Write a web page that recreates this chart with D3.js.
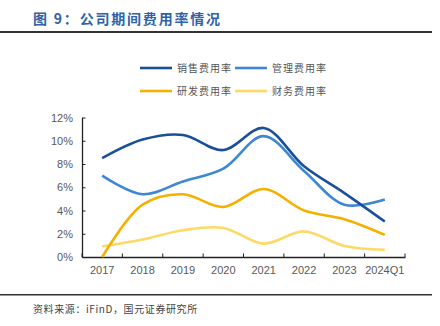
<!DOCTYPE html>
<html>
<head>
<meta charset="utf-8">
<script src="https://cdn.jsdelivr.net/npm/d3@7"></script>
<style>
  body { margin: 0; background: #fff; }
  svg { display: block; font-family: "Noto Sans CJK SC", "Liberation Sans", sans-serif; }
</style>
</head>
<body>
<div id="wrapper"></div>
<script>
// data (percent)
var years = ["2017", "2018", "2019", "2020", "2021", "2022", "2023", "2024Q1"];
var sales = [8.5, 10.1, 10.5, 9.2, 11.1, 7.8, 5.5, 3.05];
var admin = [7.0, 5.4, 6.5, 7.6, 10.4, 7.4, 4.5, 4.95];
var rnd = [0.0, 4.5, 5.4, 4.3, 5.85, 4.0, 3.25, 1.9];
var finance = [0.9, 1.5, 2.3, 2.5, 1.15, 2.2, 0.95, 0.63];
var yTicks = [0, 2, 4, 6, 8, 10, 12];

var series = [
  {name: "销售费用率", values: sales, color: "#1a4f9c"},
  {name: "管理费用率", values: admin, color: "#3e87d2"},
  {name: "研发费用率", values: rnd, color: "#f5b000"},
  {name: "财务费用率", values: finance, color: "#ffd966"}
];

var width = 440, height = 326;
var margin = {top: 117.5, right: 35, bottom: 69, left: 82};

var svg = d3.select("#wrapper").append("svg")
  .attr("width", width)
  .attr("height", height);

// title + rules
svg.append("text")
  .attr("x", 33).attr("y", 24)
  .attr("fill", "#2f62a8")
  .attr("font-size", 14).attr("font-weight", "bold")
  .attr("letter-spacing", 1.8)
  .text("图 9：公司期间费用率情况");
svg.append("rect").attr("x", 0).attr("y", 31).attr("width", 432).attr("height", 2).attr("fill", "#333");
svg.append("rect").attr("x", 0).attr("y", 294).attr("width", 432).attr("height", 1.5).attr("fill", "#333");
svg.append("text")
  .attr("x", 33).attr("y", 313)
  .attr("fill", "#444").attr("font-size", 10)
  .attr("letter-spacing", 0.6)
  .text("资料来源：iFinD，国元证券研究所");

var x = d3.scaleBand().domain(years)
  .range([margin.left, width - margin.right]);
var y = d3.scaleLinear().domain([0, 12])
  .range([height - margin.bottom, margin.top]);

// axes
var xAxis = svg.append("g")
  .attr("transform", "translate(0," + (height - margin.bottom) + ")")
  .call(d3.axisBottom(x).tickSize(0).tickPadding(9));
xAxis.select(".domain").attr("stroke", "#222").attr("stroke-width", 1.3);
xAxis.selectAll("text").attr("fill", "#595959").attr("font-size", 11)
  .attr("font-family", "Liberation Sans, sans-serif");
xAxis.selectAll(".sep")
  .data(d3.range(years.length + 1))
  .enter().append("line")
  .attr("x1", function(i) { return margin.left + i * x.step(); })
  .attr("x2", function(i) { return margin.left + i * x.step(); })
  .attr("y1", 0).attr("y2", -3.5)
  .attr("stroke", "#222").attr("stroke-width", 1);

var yAxis = svg.append("g")
  .attr("transform", "translate(" + margin.left + ",0)")
  .call(d3.axisLeft(y).tickValues(yTicks).tickSizeInner(-3.5).tickSizeOuter(0)
    .tickPadding(9).tickFormat(function(d) { return d + "%"; }));
yAxis.select(".domain").attr("stroke", "#222").attr("stroke-width", 1.3);
yAxis.selectAll(".tick line").attr("stroke", "#222");
yAxis.selectAll("text").attr("fill", "#595959").attr("font-size", 11)
  .attr("font-family", "Liberation Sans, sans-serif");

// lines
var line = d3.line()
  .x(function(d, i) { return x(years[i]) + x.bandwidth() / 2; })
  .y(function(d) { return y(d); })
  .curve(d3.curveCatmullRom.alpha(0.5));

svg.append("g").selectAll("path")
  .data(series.slice().reverse())
  .enter().append("path")
  .attr("d", function(d) { return line(d.values); })
  .attr("fill", "none")
  .attr("stroke", function(d) { return d.color; })
  .attr("stroke-width", 2.6)
  .attr("stroke-linecap", "butt");

// legend
var legendPos = [[140, 68], [235, 68], [140, 91], [235, 91]];
var legend = svg.append("g").selectAll("g")
  .data(series)
  .enter().append("g")
  .attr("transform", function(d, i) { return "translate(" + legendPos[i][0] + "," + legendPos[i][1] + ")"; });
legend.append("line")
  .attr("x1", 0).attr("x2", 32)
  .attr("stroke", function(d) { return d.color; })
  .attr("stroke-width", 2.6);
legend.append("text")
  .attr("x", 37).attr("dy", "0.35em")
  .attr("fill", "#555").attr("font-size", 10)
  .attr("letter-spacing", 1)
  .text(function(d) { return d.name; });
</script>
</body>
</html>
